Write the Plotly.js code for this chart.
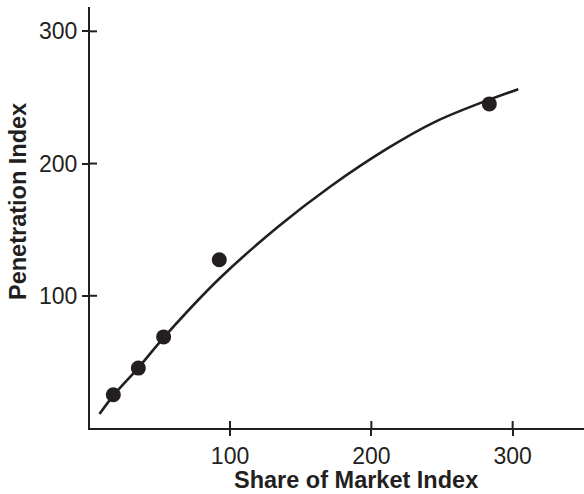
<!DOCTYPE html>
<html>
<head>
<meta charset="utf-8">
<script src="https://cdn.plot.ly/plotly-3.0.1.min.js"></script>
<style>html,body{margin:0;padding:0;background:#fff;}#chart{width:584px;height:494px;}</style>
</head>
<body>
<div id="chart"></div>
<script>
// Observed data points
var shareIndex = [17.4, 35.1, 53.0, 92.4, 283.5];
var penetrationIndex = [25.2, 45.3, 68.9, 127.2, 245.1];
// Fitted curve
var curveX = [7.6, 17.4, 35.1, 54.0, 92.9, 134.2, 170.8, 212.0, 244.0, 276.9, 304.0];
var curveY = [10.5, 24.5, 45.5, 69.5, 113.4, 152.4, 182.5, 211.8, 231.0, 245.7, 256.2];
var tickVals = [100, 200, 300];
var tickText = ['100', '200', '300'];
var xTitle = 'Share of Market Index';
var yTitle = 'Penetration Index';

var ink = '#231f20';
var font = 'Liberation Sans, Arial, Helvetica, sans-serif';

var xr = [0.9, 350.5], yr = [0, 318.4];
var plotW = 494, plotH = 421, innerLen = 7;

// inner half of the crossing tick marks, derived from the tick values
var dxTick = innerLen / plotW * (xr[1] - xr[0]);
var dyTick = innerLen / plotH * (yr[1] - yr[0]);
var tx = [], ty = [];
tickVals.forEach(function (v) {
  tx.push(v, v, null); ty.push(yr[0], yr[0] + dyTick, null);
  tx.push(xr[0], xr[0] + dxTick, null); ty.push(v, v, null);
});

var traces = [
  {x: curveX, y: curveY, type: 'scatter', mode: 'lines',
   line: {color: ink, width: 2.6, shape: 'spline', smoothing: 1}, hoverinfo: 'skip'},
  {x: shareIndex, y: penetrationIndex, type: 'scatter', mode: 'markers',
   marker: {color: ink, size: 15}},
  {x: tx, y: ty, type: 'scatter', mode: 'lines', line: {color: ink, width: 2},
   connectgaps: false, cliponaxis: false, hoverinfo: 'skip'}
];

var layout = {
  width: 584, height: 494,
  margin: {l: 90, r: 0, t: 7, b: 66},
  paper_bgcolor: '#fff', plot_bgcolor: '#fff',
  showlegend: false,
  xaxis: {range: xr, showgrid: false, zeroline: false, showline: true, linecolor: ink, linewidth: 2,
          ticks: 'outside', ticklen: 6, tickwidth: 2, tickcolor: ink,
          tickvals: tickVals, ticktext: tickText,
          tickfont: {family: font, size: 23, color: ink}},
  yaxis: {range: yr, showgrid: false, zeroline: false, showline: true, linecolor: ink, linewidth: 2,
          ticks: 'outside', ticklen: 6, tickwidth: 2, tickcolor: ink,
          tickvals: tickVals, ticktext: tickText,
          tickfont: {family: font, size: 23, color: ink}},
  annotations: [
    {text: xTitle, xref: 'paper', yref: 'paper', x: (356 - 90) / 494, y: 0, yshift: -52,
     xanchor: 'center', yanchor: 'middle', showarrow: false,
     font: {family: font, size: 23.5, color: ink, weight: 'bold'}},
    {text: yTitle, xref: 'paper', yref: 'paper', x: 0, xshift: -72, y: (428 - 202) / 421,
     xanchor: 'center', yanchor: 'middle', showarrow: false, textangle: -90,
     font: {family: font, size: 23.5, color: ink, weight: 'bold'}}
  ]
};

Plotly.newPlot('chart', traces, layout, {displayModeBar: false, staticPlot: true});
</script>
</body>
</html>
